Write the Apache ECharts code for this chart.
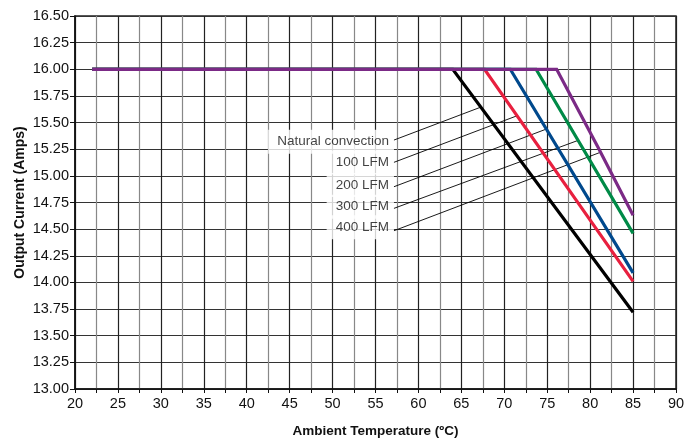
<!DOCTYPE html>
<html><head><meta charset="utf-8">
<script src="https://cdn.jsdelivr.net/npm/echarts@6/dist/echarts.min.js"></script>
<style>html,body{margin:0;padding:0;background:#fff}#c{width:699px;height:439px}</style>
</head><body><div id="c"></div>
<script>
// Derating curves: [temperature °C, output current A]
const natural = [[22,16.00],[64.0,16.00],[85,13.72]];
const lfm100  = [[22,16.00],[67.7,16.00],[85,14.01]];
const lfm200  = [[22,16.00],[70.7,16.00],[85,14.09]];
const lfm300  = [[22,16.00],[73.7,16.00],[85,14.46]];
const lfm400  = [[22,16.00],[76.1,16.00],[80.9,15.27],[85,14.63]];

const seriesNames  = ['Natural convection','100 LFM','200 LFM','300 LFM','400 LFM'];
const seriesColors = ['#000000','#e8203f','#00498d','#008a47','#7b2a86'];

// Annotation labels: text position and leader line (data coordinates)
const labelX = 57.15;
const labelY = [15.320, 15.125, 14.915, 14.710, 14.518];
const leaderStartY = [15.336, 15.127, 14.898, 14.695, 14.485];
const leaderEnd = [[67.27,15.645],[71.49,15.564],[74.9,15.439],[78.5,15.33],[81.16,15.22]];

const xTicks = [20,25,30,35,40,45,50,55,60,65,70,75,80,85,90];

const FONT = '"Liberation Sans",Arial,Helvetica,sans-serif';

const chart = echarts.init(document.getElementById('c'), null, {renderer:'canvas'});
const curves = [natural, lfm100, lfm200, lfm300, lfm400];

const series = [];
leaderEnd.forEach((e,i)=>{
  series.push({
    type:'line', data:[[labelX, leaderStartY[i]], e], symbol:'none', silent:true,
    lineStyle:{color:'#000', width:0.9}, z:3, animation:false
  });
});
curves.forEach((d,i)=>{
  series.push({
    name: seriesNames[i], type:'line', data:d, symbol:'none',
    lineStyle:{color:seriesColors[i], width:3.2, join:'miter'}, z:4+i, animation:false
  });
});
series.push({
  type:'scatter', symbolSize:0, z:2, animation:false, silent:true,
  data: labelY.map((y,i)=>({value:[labelX,y], name:seriesNames[i]})),
  label:{show:true, position:'left', distance:0, formatter:p=>p.name,
    fontFamily:FONT, fontSize:13.5, color:'#111', backgroundColor:'#fff',
    padding:[5,5,5,9], lineHeight:14}
});

chart.setOption({
  backgroundColor:'#fff',
  animation:false,
  grid:{left:75, right:23, top:16, bottom:50, outerBoundsMode:'none', containLabel:false,
    show:true, borderColor:'#222', borderWidth:1.5},
  xAxis:{
    type:'value', min:20, max:90, interval:5,
    name:'Ambient Temperature (ºC)', nameLocation:'middle', nameGap:35, nameMoveOverlap:false,
    nameTextStyle:{fontFamily:FONT, fontSize:13.5, fontWeight:'bold', color:'#111'},
    axisLine:{show:true, lineStyle:{color:'#111', width:1.5}},
    axisTick:{show:true, length:4, lineStyle:{color:'#111'}},
    minorTick:{show:true, splitNumber:2, length:4, lineStyle:{color:'#111'}},
    splitLine:{show:true, lineStyle:{color:'#222', width:1.2}},
    minorSplitLine:{show:true, lineStyle:{color:'#888', width:1.2}},
    axisLabel:{fontFamily:FONT, fontSize:14.5, color:'#111', margin:7,
      formatter:v=> xTicks.includes(v) ? String(v) : ''}
  },
  yAxis:{
    type:'value', min:13, max:16.5, interval:0.25,
    name:'Output Current (Amps)', nameLocation:'middle', nameGap:48, nameMoveOverlap:false,
    nameTextStyle:{fontFamily:FONT, fontSize:14, fontWeight:'bold', color:'#111'},
    axisLine:{show:true, lineStyle:{color:'#111', width:1.5}},
    axisTick:{show:true, length:5, lineStyle:{color:'#111'}},
    splitLine:{show:true, lineStyle:{color:'#333', width:1.2}},
    axisLabel:{fontFamily:FONT, fontSize:14.5, color:'#111', margin:6,
      formatter:v=>v.toFixed(2)}
  },
  series
});
</script></body></html>
